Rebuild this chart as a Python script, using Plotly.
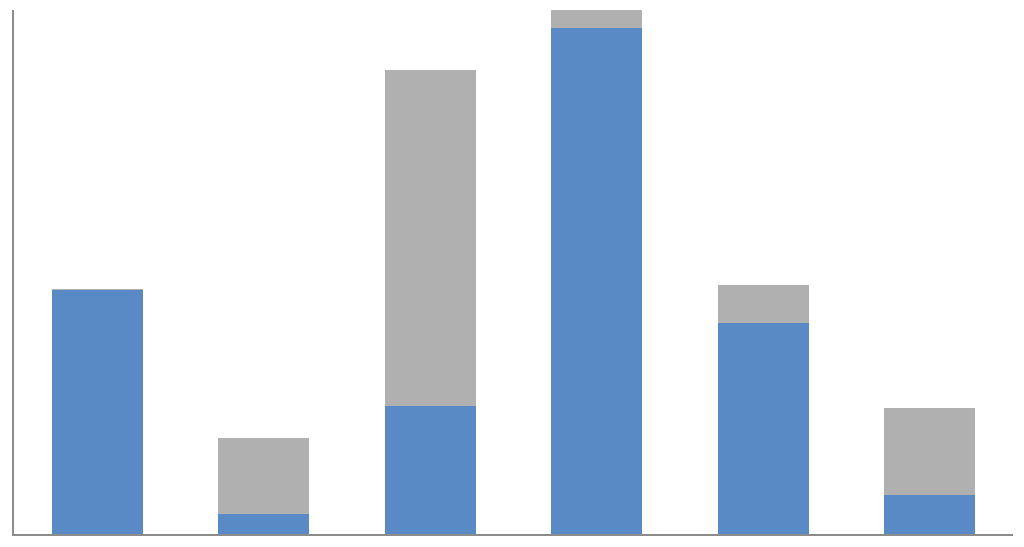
import plotly.graph_objects as go

categories = ["A", "B", "C", "D", "E", "F"]
blue_values = [244, 20, 128, 506, 211, 39]
gray_values = [1, 76, 336, 18, 38, 87]

fig = go.Figure()
fig.add_trace(go.Bar(x=categories, y=blue_values, marker=dict(color="#5A8AC6", line=dict(width=0)), name="Series 1"))
fig.add_trace(go.Bar(x=categories, y=gray_values, marker=dict(color="#B0B0B0", line=dict(width=0)), name="Series 2"))

fig.update_layout(
    barmode="stack",
    bargap=0.453,
    width=1016, height=539,
    margin=dict(l=6, r=11, t=2, b=13),
    paper_bgcolor="white", plot_bgcolor="white",
    showlegend=False,
    xaxis=dict(showticklabels=False, showgrid=False, zeroline=False,
               showline=True, linecolor="#8C8C8C", linewidth=2, ticks=""),
    yaxis=dict(range=[0, 524], showticklabels=False, showgrid=False, zeroline=False,
               showline=True, linecolor="#8C8C8C", linewidth=2, ticks=""),
)
fig.write_html("out.html")
